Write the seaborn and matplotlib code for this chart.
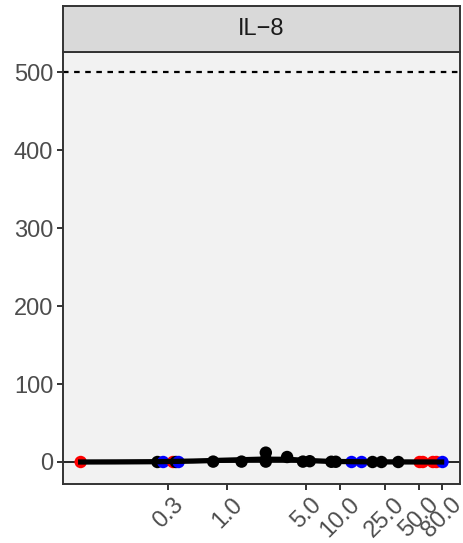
import numpy as np
import pandas as pd
import seaborn as sns
import matplotlib.pyplot as plt

# measured points: concentration, response, point colour group
dose = [0.05, 0.24, 0.27, 0.33, 0.35, 0.37, 0.75, 1.34, 2.2, 2.2, 2.2, 3.4,
        4.7, 5.4, 8.4, 9.2, 12.7, 15.6, 19.5, 23.4, 33.0, 51.0, 54.5, 67.0,
        72.0, 81.5]
resp = [0.0, 0.0, 0.0, 0.0, 0.0, 0.0, 0.5, 0.5, 12.0, 0.5, 3.0, 6.4,
        0.5, 1.0, 0.3, 0.3, 0.0, 0.0, 0.0, 0.0, 0.0, 0.0, 0.0, 0.0,
        0.0, 0.0]
group = ["low", "mid", "high", "low", "mid", "high", "mid", "mid", "mid", "mid",
         "mid", "mid", "mid", "mid", "mid", "mid", "high", "high", "mid", "mid",
         "mid", "low", "low", "low", "low", "high"]

# fitted curve
curve_x = [0.05, 0.1, 0.25, 0.5, 1.0, 2.0, 3.5, 5.0, 8.0, 15.0, 30.0, 80.0]
curve_y = [0.0, 0.1, 0.4, 1.2, 2.4, 3.6, 3.4, 2.0, 0.8, 0.3, 0.1, 0.0]

xticks = [0.3, 1.0, 5.0, 10.0, 25.0, 50.0, 80.0]
yticks = [0, 100, 200, 300, 400, 500]
limit = 500
panel_title = "IL\u22128"

pts = pd.DataFrame({"dose": dose, "resp": resp, "group": group})
fit = pd.DataFrame({"dose": curve_x, "resp": curve_y})

plt.rcParams["font.family"] = ["Liberation Sans", "DejaVu Sans"]

fig = plt.figure(figsize=(4.63, 5.43), dpi=100)
ax = fig.add_axes([0.136, 0.109, 0.857, 0.795])
ax.set_facecolor("#F2F2F2")

ax.axhline(0, color="black", lw=1.2, zorder=1)
ax.axhline(limit, color="black", lw=1.6, ls=(0, (2.5, 2.5)), zorder=1)

sns.scatterplot(data=pts, x="dose", y="resp", hue="group",
                palette={"mid": "black", "low": "#FF0000", "high": "#0000FF"},
                s=80, linewidth=0, legend=False, ax=ax, zorder=3)
sns.lineplot(data=fit, x="dose", y="resp", color="black", lw=3.8,
             ax=ax, zorder=4)

ax.set_xscale("log")
ax.set_xlim(0.0348, 116)
ax.set_ylim(-28, 526)
ax.set_xticks(xticks)
ax.set_xticklabels([f"{v:.1f}" for v in xticks], rotation=45, ha="center")
ax.xaxis.set_minor_locator(plt.NullLocator())
ax.set_yticks(yticks)
ax.set_xlabel("")
ax.set_ylabel("")
ax.tick_params(colors="#333333", length=4, width=1.4, labelsize=17,
               labelcolor="#4D4D4D", pad=3)
for sp in ax.spines.values():
    sp.set_color("#333333")
    sp.set_linewidth(1.4)

# facet strip
st = fig.add_axes([0.136, 0.904, 0.857, 0.085])
st.set_facecolor("#D9D9D9")
st.set_xticks([])
st.set_yticks([])
for sp in st.spines.values():
    sp.set_color("#333333")
    sp.set_linewidth(1.4)
st.text(0.5, 0.5, panel_title, ha="center", va="center", fontsize=17,
        color="#1A1A1A", transform=st.transAxes)

fig.savefig("out.png", dpi=100)
